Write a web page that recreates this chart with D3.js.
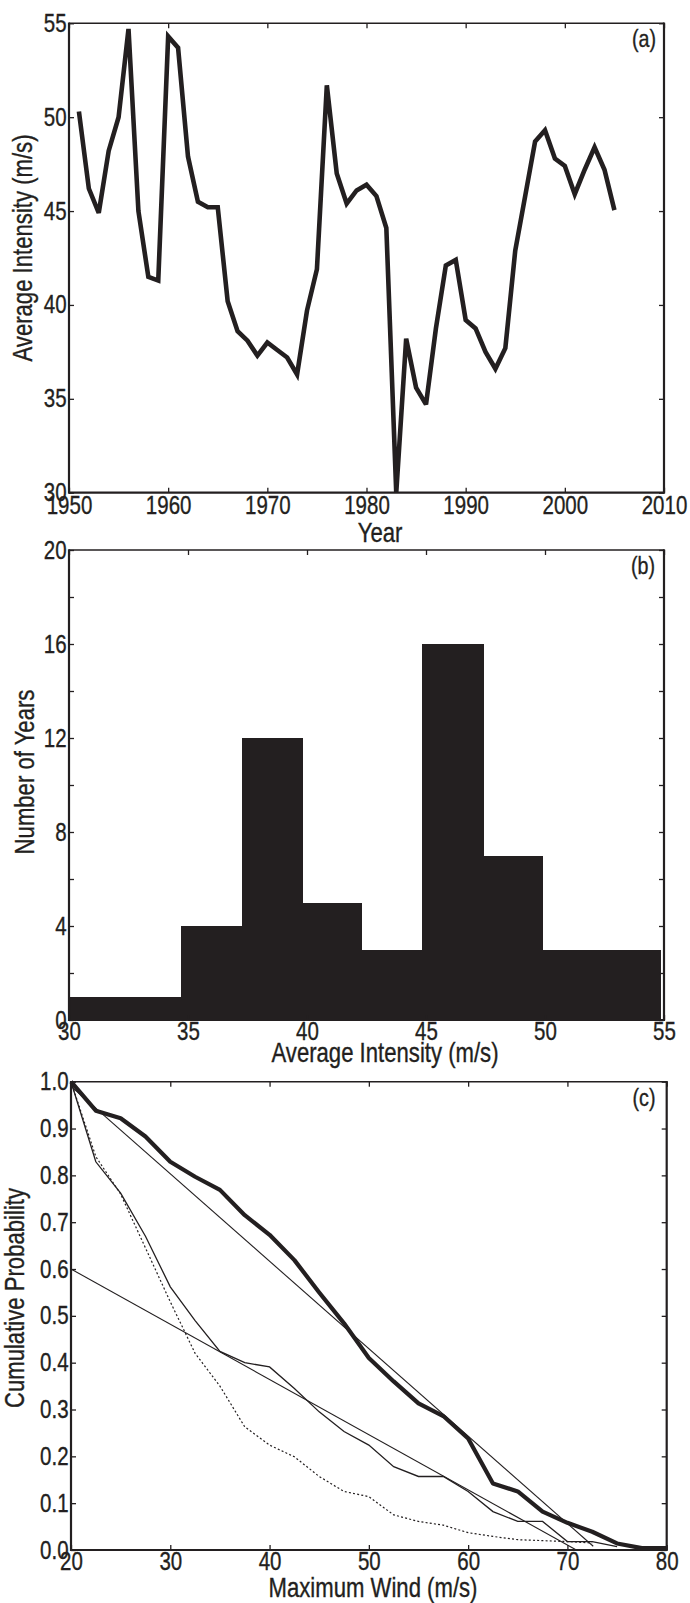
<!DOCTYPE html>
<html><head><meta charset="utf-8">
<script src="https://cdn.jsdelivr.net/npm/d3@7"></script>
<style>
html,body{margin:0;padding:0;background:#fff;}
svg text{font-family:"Liberation Sans Narrow","Arial Narrow","Liberation Sans",Arial,sans-serif;fill:#231f20;stroke:#231f20;stroke-width:0.35px;}
</style></head>
<body>
<script>
// ---------- DATA ----------
// Panel (a): yearly average intensity
const years = [1951,1952,1953,1954,1955,1956,1957,1958,1959,1960,
               1961,1962,1963,1964,1965,1966,1967,1968,1969,1970,
               1971,1972,1973,1974,1975,1976,1977,1978,1979,1980,
               1981,1982,1983,1984,1985,1986,1987,1988,1989,1990,
               1991,1992,1993,1994,1995,1996,1997,1998,1999,2000,
               2001,2002,2003,2004,2005];
const avgIntensity = [50.3,46.2,44.9,48.2,50.0,54.7,45.0,41.5,41.3,54.3,
                      53.7,47.9,45.5,45.2,45.2,40.2,38.6,38.1,37.3,38.0,
                      37.6,37.2,36.3,39.7,41.9,51.7,47.0,45.4,46.1,46.4,
                      45.8,44.1,30.0,38.2,35.6,34.7,38.75,42.1,42.4,39.2,
                      38.75,37.5,36.6,37.7,42.9,45.8,48.7,49.3,47.8,47.4,
                      45.9,47.2,48.4,47.2,45.05];
const yearTicks = [1950,1960,1970,1980,1990,2000,2010];
const intensityTicks = [30,35,40,45,50,55];

// Panel (b): histogram
const binEdges = [30,32.2,34.7,37.25,39.8,42.3,44.85,47.4,49.9,52.4,54.85];
const binCounts = [1,1,4,12,5,3,16,7,3,3];
const histXTicks = [30,35,40,45,50,55];
const histYTicks = [0,2,4,6,8,10,12,14,16,18,20];

// Panel (c): cumulative probability
const windAll = [20,22.5,25,27.5,30,32.5,35,37.5,40,42.5,45,47.5,50,52.5,55,57.5,60,62.5,65,67.5,70,72.5,75,77.5,80];
const cdfAll  = [1.0,0.938,0.922,0.883,0.829,0.797,0.769,0.715,0.673,0.619,0.55,0.484,0.41,0.36,0.313,0.286,0.238,0.142,0.125,0.082,0.058,0.039,0.014,0.004,0.004];
const windSub = [20,22.5,25,27.5,30,32.5,35,37.5,40,42.5,45,47.5,50,52.5,55,57.5,60,62.5,65,67.5,70,72.5,75];
const cdfSub  = [1.0,0.829,0.762,0.67,0.562,0.49,0.424,0.40,0.391,0.345,0.295,0.253,0.224,0.178,0.157,0.157,0.125,0.082,0.061,0.061,0.018,0.018,0.007];
const windDot = [20,22.5,25,27.5,30,32.5,35,37.5,40,42.5,45,47.5,50,52.5,55,57.5,60,62.5,65,67.5,70,72.5];
const cdfDot  = [1.0,0.84,0.76,0.645,0.53,0.42,0.35,0.263,0.224,0.199,0.157,0.125,0.114,0.075,0.061,0.053,0.037,0.029,0.022,0.02,0.018,0.015];
const fitAllX = [20,72.6];
const fitAllY = [0.99,0.008];
const fitSubX = [20,70.9];
const fitSubY = [0.6,0.0];
const windTicks = [20,30,40,50,60,70,80];
const probTicks = [0,0.1,0.2,0.3,0.4,0.5,0.6,0.7,0.8,0.9,1.0];

// ---------- DRAW ----------
const INK = "#231f20";
const SX = 0.82; // horizontal condensing of the font
const svg = d3.select("body").append("svg").attr("width",690).attr("height",1603);

function frame(g, box, x, y, xt, yt, xfmt, yfmt, xpad){
  const w = box.r - box.l, h = box.b - box.t;
  const gg = g.append("g").attr("transform",`translate(${box.l},${box.t})`);
  const ab = gg.append("g").attr("transform",`translate(0,${h})`)
    .call(d3.axisBottom(x).tickValues(xt).tickSize(-5).tickPadding(xpad).tickFormat(xfmt));
  const at = gg.append("g").call(d3.axisTop(x).tickValues(xt).tickSize(-5).tickFormat(""));
  const al = gg.append("g").call(d3.axisLeft(y).tickValues(yt).tickSize(-5).tickPadding(3).tickFormat(yfmt));
  const ar = gg.append("g").attr("transform",`translate(${w},0)`)
    .call(d3.axisRight(y).tickValues(yt).tickSize(-5).tickFormat(""));
  [ab,at,al,ar].forEach(a=>{
    a.select(".domain").remove();
    a.selectAll(".tick line").attr("stroke",INK).attr("stroke-width",1.3);
    a.selectAll("text").attr("font-size",25).attr("fill",INK)
      .attr("font-family",'"Liberation Sans Narrow","Arial Narrow","Liberation Sans",Arial,sans-serif')
      .attr("transform",`scale(${SX},1)`);
  });
  gg.append("line").attr("x1",0).attr("x2",w).attr("y1",0).attr("y2",0).attr("stroke",INK).attr("stroke-width",1.4);
  gg.append("line").attr("x1",0).attr("x2",w).attr("y1",h).attr("y2",h).attr("stroke",INK).attr("stroke-width",2.2);
  gg.append("line").attr("x1",0).attr("x2",0).attr("y1",-0.7).attr("y2",h+1.1).attr("stroke",INK).attr("stroke-width",2.2);
  gg.append("line").attr("x1",w).attr("x2",w).attr("y1",-0.7).attr("y2",h+1.1).attr("stroke",INK).attr("stroke-width",2.2);
  return gg;
}
function ytitle(text, bx, cy){
  svg.append("text").attr("transform",`translate(${bx},${cy}) rotate(-90) scale(${SX},1)`)
    .attr("text-anchor","middle").attr("font-size",27).text(text);
}
function xtitle(text, cx, by){
  svg.append("text").attr("transform",`translate(${cx},${by}) scale(${SX},1)`)
    .attr("text-anchor","middle").attr("font-size",27).text(text);
}
function tag(text, cx, by){
  svg.append("text").attr("transform",`translate(${cx},${by}) scale(${SX},1)`)
    .attr("text-anchor","middle").attr("font-size",24).text(text);
}

// ----- Panel (a) -----
{
  const box = {l:69, r:664, t:23.3, b:492.7};
  const x = d3.scaleLinear().domain([1950,2010]).range([box.l,box.r]);
  const y = d3.scaleLinear().domain([30,55]).range([box.b,box.t]);
  const line = d3.line().x((d,i)=>x(years[i])).y(d=>y(d));
  svg.append("path").datum(avgIntensity).attr("d",line)
    .attr("fill","none").attr("stroke",INK).attr("stroke-width",4.6)
    .attr("stroke-linejoin","miter").attr("stroke-miterlimit",3);
  const xl = d3.scaleLinear().domain([1950,2010]).range([0,box.r-box.l]);
  const yl = d3.scaleLinear().domain([30,55]).range([box.b-box.t,0]);
  frame(svg, box, xl, yl, yearTicks, intensityTicks, d3.format("d"), d3.format("d"), 4);
  ytitle("Average Intensity (m/s)", 32, 248);
  xtitle("Year", 380, 542);
  tag("(a)", 644, 47);
}

// ----- Panel (b) -----
{
  const box = {l:69, r:664, t:550, b:1020};
  const x = d3.scaleLinear().domain([30,55]).range([box.l,box.r]);
  const y = d3.scaleLinear().domain([0,20]).range([box.b,box.t]);
  svg.append("g").attr("shape-rendering","crispEdges").selectAll("rect").data(binCounts).join("rect")
    .attr("x",(d,i)=>x(binEdges[i]))
    .attr("width",(d,i)=>x(binEdges[i+1])-x(binEdges[i])+0.5)
    .attr("y",d=>y(d)).attr("height",d=>y(0)-y(d))
    .attr("fill",INK);
  const xl = d3.scaleLinear().domain([30,55]).range([0,box.r-box.l]);
  const yl = d3.scaleLinear().domain([0,20]).range([box.b-box.t,0]);
  frame(svg, box, xl, yl, histXTicks, histYTicks, d3.format("d"), d=>(d%4===0?d:""), 2.5);
  ytitle("Number of Years", 34, 772);
  xtitle("Average Intensity (m/s)", 385, 1062);
  tag("(b)", 643, 574);
}

// ----- Panel (c) -----
{
  const box = {l:71, r:666.7, t:1081.7, b:1550};
  const x = d3.scaleLinear().domain([20,80]).range([box.l,box.r]);
  const y = d3.scaleLinear().domain([0,1]).range([box.b,box.t]);
  const mk = (xs)=>d3.line().x((d,i)=>x(xs[i])).y(d=>y(d));
  svg.append("path").datum(fitAllY).attr("d",mk(fitAllX)).attr("fill","none").attr("stroke",INK).attr("stroke-width",1.1);
  svg.append("path").datum(fitSubY).attr("d",mk(fitSubX)).attr("fill","none").attr("stroke",INK).attr("stroke-width",1.1);
  svg.append("path").datum(cdfDot).attr("d",mk(windDot)).attr("fill","none").attr("stroke",INK).attr("stroke-width",1.2).attr("stroke-dasharray","2,2.2");
  svg.append("path").datum(cdfSub).attr("d",mk(windSub)).attr("fill","none").attr("stroke",INK).attr("stroke-width",1.3);
  svg.append("path").datum(cdfAll).attr("d",mk(windAll)).attr("fill","none").attr("stroke",INK).attr("stroke-width",4.2).attr("stroke-linejoin","round");
  const xl = d3.scaleLinear().domain([20,80]).range([0,box.r-box.l]);
  const yl = d3.scaleLinear().domain([0,1]).range([box.b-box.t,0]);
  frame(svg, box, xl, yl, windTicks, probTicks, d3.format("d"), d3.format(".1f"), 2);
  ytitle("Cumulative Probability", 24, 1298);
  xtitle("Maximum Wind (m/s)", 373, 1597);
  tag("(c)", 644, 1106);
}
</script>
</body></html>
